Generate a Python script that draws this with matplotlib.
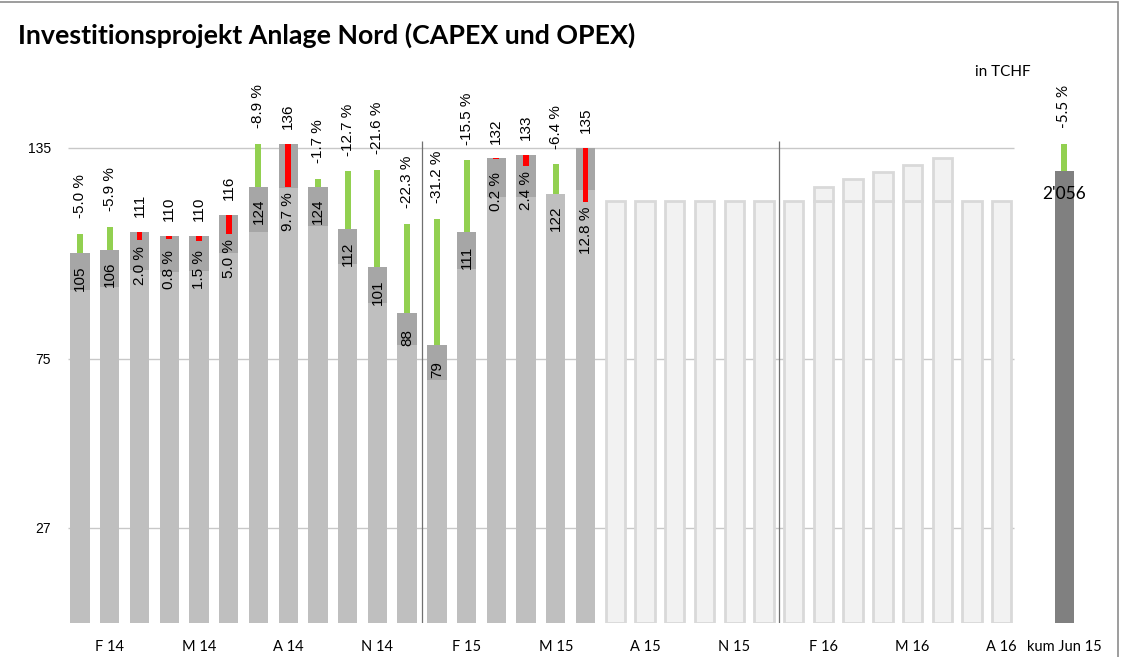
import matplotlib
matplotlib.use('Agg')
import matplotlib.pyplot as plt
from matplotlib.patches import Rectangle

# monthly data, Jan 14 .. Jun 15 actual, Jul 15 .. Aug 16 plan
actual = [105, 106, 111, 110, 110, 116, 124, 136, 124, 112, 101, 88,
          79, 111, 132, 133, 122, 135]
plan = [110.5, 112.6, 108.8, 109.1, 108.4, 110.5, 136.1, 124.0, 126.1, 128.3, 128.8, 113.3,
        114.8, 131.4, 131.7, 129.9, 130.3, 119.7]
var_pct = [-5.0, -5.9, 2.0, 0.8, 1.5, 5.0, -8.9, 9.7, -1.7, -12.7, -21.6, -22.3,
           -31.2, -15.5, 0.2, 2.4, -6.4, 12.8]
label_band = [10.4, 10.5, 10.7, 10.3, 10.0, 11.0, 13.0, 12.4, 11.2, 10.0, 10.0, 9.0,
              10.0, 10.5, 11.0, 12.0, 0.0, 12.0]
plan_base = [120, 120, 120, 120, 120, 120, 120, 120, 120, 120, 120, 120, 120, 120]
plan_top = [120, 120, 120, 120, 120, 120, 120, 124, 126, 128, 130, 132, 120, 120]

tick_pos = [1, 4, 7, 10, 13, 16, 19, 22, 25, 28, 31]
tick_labels = ['F 14', 'M 14', 'A 14', 'N 14', 'F 15', 'M 15',
               'A 15', 'N 15', 'F 16', 'M 16', 'A 16']

kum_actual = 2056
kum_plan = 2176
kum_pct = -5.5
kum_label = "2'056"
kum_scale = 16.0

narrow = ['Liberation Sans Narrow', 'Liberation Sans', 'DejaVu Sans']
calib = ['Lato', 'DejaVu Sans']
LFS = 11  # data label size

fig = plt.figure(figsize=(11.21, 6.57), dpi=100)
ax = fig.add_axes([62.2 / 1121, 34 / 657, (1091 - 62.2) / 1121, 528 / 657])
ax.set_xlim(-0.6, 34.0)
ax.set_ylim(0, 150)
for s in ax.spines.values():
    s.set_visible(False)

W = 0.65
GREEN = '#92d050'
RED = '#ff0000'

ax.hlines([27, 75, 135], -0.4, 31.4, color='#c8c8c8', lw=1, zorder=0)
ax.vlines([11.5, 23.5], 0, 137, color='#707070', lw=0.9, zorder=1)

# actual bars
xa = list(range(len(actual)))
ax.bar(xa, actual, width=W, color='#bfbfbf', zorder=2)
ax.bar(xa, label_band, bottom=[a - b for a, b in zip(actual, label_band)],
       width=W, color='#a6a6a6', zorder=2)

for i, (a, p, v) in enumerate(zip(actual, plan, var_pct)):
    if p > a:
        ax.bar(i, p - a, bottom=a, width=0.2, color=GREEN, zorder=3)
        ax.text(i, p + 4.5, f'{v:.1f} %', rotation=90, ha='center', va='bottom',
                fontsize=LFS, family=narrow)
        ax.text(i, a - 7.0, f'{a}', rotation=90, ha='center', va='center',
                fontsize=LFS, family=narrow, zorder=4)
    else:
        ax.bar(i, a - p, bottom=p, width=0.2, color=RED, zorder=3)
        ax.text(i, a + 4.2, f'{a}', rotation=90, ha='center', va='bottom',
                fontsize=LFS, family=narrow)
        ax.text(i, min(a - 4.0, p - 1.5), f'{v:.1f} %', rotation=90, ha='center',
                va='top', fontsize=LFS, family=narrow, zorder=4)

# plan bars
xf = list(range(len(actual), len(actual) + len(plan_base)))
ax.bar(xf, plan_base, width=W, facecolor='#f2f2f2', edgecolor='#d9d9d9',
       linewidth=2, zorder=2)
for x, b, t in zip(xf, plan_base, plan_top):
    if t > b:
        ax.bar(x, t - b, bottom=b, width=W, facecolor='#f2f2f2',
               edgecolor='#d9d9d9', linewidth=2, zorder=2)

# cumulated bar
kx = 33.1
ka = kum_actual / kum_scale
kp = kum_plan / kum_scale
ax.bar(kx, ka, width=W, color='#808080', zorder=2)
ax.bar(kx, kp - ka, bottom=ka, width=0.2, color=GREEN, zorder=3)
ax.text(kx, kp + 4.5, f'{kum_pct:.1f} %', rotation=90, ha='center', va='bottom',
        fontsize=11, family=calib)
ax.text(kx, ka - 6.5, kum_label, ha='center', va='center', fontsize=12.5,
        family=calib, zorder=4)

ax.set_xticks(tick_pos + [kx])
ax.set_xticklabels(tick_labels + ['kum Jun 15'], family=calib, fontsize=10.5)
ax.set_yticks([27, 75, 135])
ax.set_yticklabels(['27', '75', '135'], family=narrow, fontsize=10)
ax.tick_params(axis='x', length=0, pad=12)
ax.tick_params(axis='y', length=0, pad=8)

fig.text(18 / 1121, 1 - 35 / 657, 'Investitionsprojekt Anlage Nord (CAPEX und OPEX)',
         fontsize=19.3, fontweight='bold', family=calib, va='center', ha='left')
fig.text(975 / 1121, 1 - 72 / 657, 'in TCHF', fontsize=11, family=calib,
         va='center', ha='left')

fig.patches.append(Rectangle((-0.01, -0.01), 1118 / 1121 + 0.01, 1.01 - 1.5 / 657,
                             transform=fig.transFigure, fill=False,
                             edgecolor='#8c8c8c', lw=1.2))

fig.savefig('out.png', dpi=100)
